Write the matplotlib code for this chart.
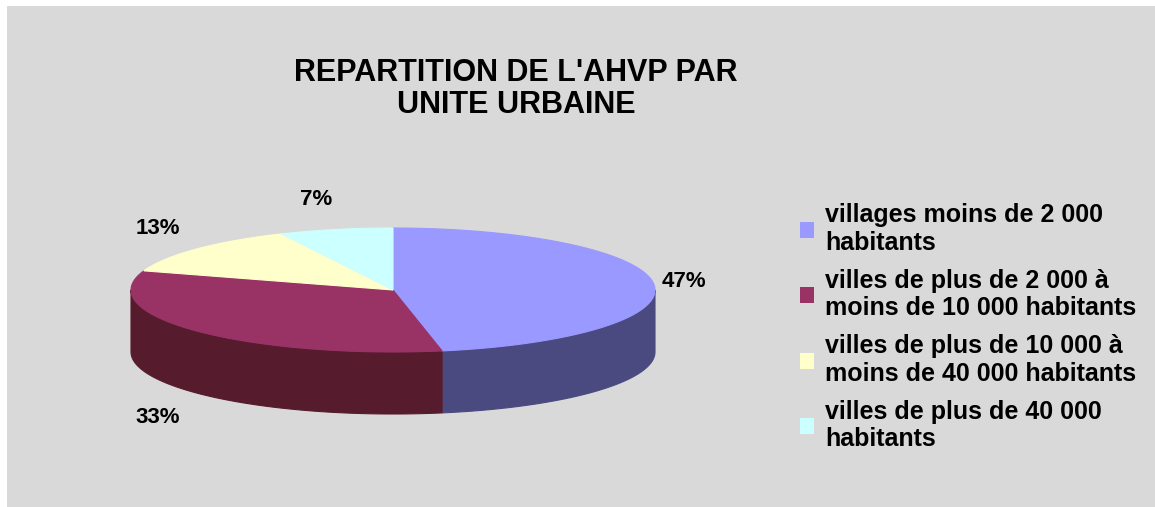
import numpy as np
import matplotlib
matplotlib.use("Agg")
import matplotlib.pyplot as plt
from matplotlib.patches import Polygon, Rectangle, Patch

plt.rcParams['font.family'] = ['Liberation Sans', 'DejaVu Sans']

# données
categories = [
    "villages moins de 2 000\nhabitants",
    "villes de plus de 2 000 à\nmoins de 10 000 habitants",
    "villes de plus de 10 000 à\nmoins de 40 000 habitants",
    "villes de plus de 40 000\nhabitants",
]
values = [47, 33, 13, 7]
labels = ["47%", "33%", "13%", "7%"]
top_colors = ["#9999ff", "#993366", "#ffffcc", "#ccffff"]
side_colors = ["#4a4a80", "#561b2c", "#80806a", "#6a8080"]
title = "REPARTITION DE L'AHVP PAR\nUNITE URBAINE"

W, H = 1155, 507
fig = plt.figure(figsize=(W / 100, H / 100), dpi=100, facecolor="white")
fig.patches.append(Rectangle((7 / W, 0), 1 - 7 / W, 1 - 6 / H, transform=fig.transFigure,
                             facecolor="#d9d9d9", edgecolor="none", zorder=-10))

ax = fig.add_axes([0, 0, 1, 1])
ax.set_xlim(0, W)
ax.set_ylim(H, 0)
ax.axis("off")

# géométrie du camembert 3D (pixels)
cx, cy, a, b, depth = 393, 290, 262, 62, 62


def pt(phi, dy=0):
    # phi: degrés dans le sens horaire depuis midi
    r = np.radians(phi)
    return cx + a * np.sin(r), cy - b * np.cos(r) + dy


bounds = np.concatenate([[0], np.cumsum(values)]) / sum(values) * 360

# faces latérales (partie avant seulement)
for i in range(len(values)):
    p1, p2 = max(bounds[i], 90), min(bounds[i + 1], 270)
    if p2 <= p1:
        continue
    ph = np.linspace(p1, p2, 80)
    top = [pt(p) for p in ph]
    bot = [pt(p, depth) for p in ph[::-1]]
    ax.add_patch(Polygon(top + bot, closed=True, facecolor=side_colors[i],
                         edgecolor=side_colors[i], lw=0.8, zorder=2))

# faces supérieures
for i in range(len(values)):
    ph = np.linspace(bounds[i], bounds[i + 1], 120)
    poly = [(cx, cy)] + [pt(p) for p in ph]
    ax.add_patch(Polygon(poly, closed=True, facecolor=top_colors[i],
                         edgecolor=top_colors[i], lw=0.8, zorder=3))

# étiquettes de pourcentage
for i, lab in enumerate(labels):
    mid = (bounds[i] + bounds[i + 1]) / 2
    r = np.radians(mid)
    s, c = np.sin(r), np.cos(r)
    x = cx + 1.06 * a * s
    y = cy - 1.5 * b * c + (depth + 4 if c < 0 else 0)
    if abs(s) < 0.3:
        ha = "center"
        x = cx + 1.35 * a * s
    else:
        ha = "left" if s > 0 else "right"
        x -= 5 if s < 0 else 8
    ax.text(x, y, lab, ha=ha, va="center", fontsize=16, fontweight="bold", zorder=5)

# titre
ax.text(516, 89, title, ha="center", va="center", fontsize=22, fontweight="bold",
        linespacing=1.1)

# légende
handles = [Patch(facecolor=c, edgecolor="none") for c in top_colors]
fig.legend(handles, categories, loc="upper left", bbox_to_anchor=(790 / W, 1 - 193 / H),
           frameon=False, prop={"weight": "bold", "size": 18},
           handlelength=0.55, handleheight=0.6, handletextpad=0.45, labelspacing=0.55,
           borderaxespad=0)

fig.savefig("out.png", dpi=100, facecolor=fig.get_facecolor())
